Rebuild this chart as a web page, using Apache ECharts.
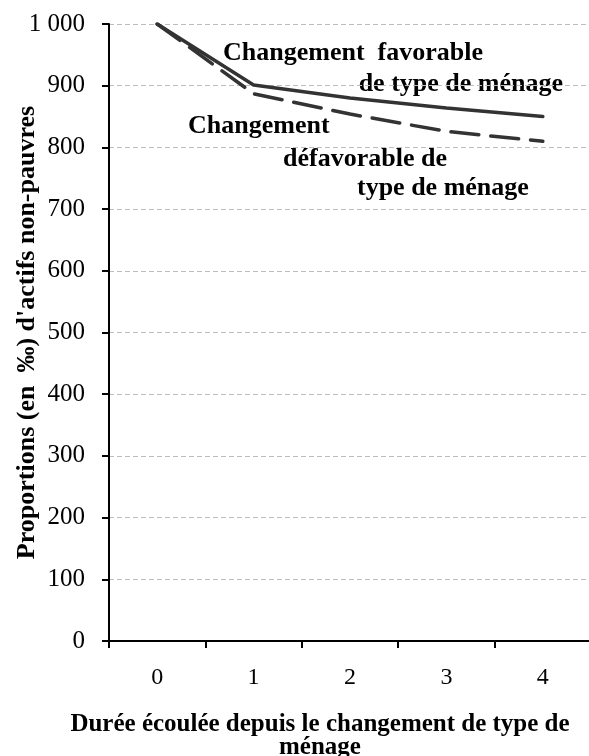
<!DOCTYPE html>
<html>
<head>
<meta charset="utf-8">
<script src="https://cdn.jsdelivr.net/npm/echarts@6/dist/echarts.min.js"></script>
<style>
  html, body { margin: 0; padding: 0; background: #fff; }
  #chart { width: 589px; height: 756px; }
</style>
</head>
<body>
<div id="chart"></div>
<script>
// durée écoulée (années)
var categories = ['0', '1', '2', '3', '4'];
// proportions (‰) d'actifs non-pauvres
var favorable = [1000, 901, 880, 864, 850];
var defavorable = [1000, 887, 854, 826, 810];

var serif = '"Liberation Serif", "DejaVu Serif", serif';

var chart = echarts.init(document.getElementById('chart'));

function label(text, pos){
	var el = {
		type: 'text',
		style: {text: text, font: 'bold 26px ' + serif, fill: '#000'}
	};
	for(var k in pos) el[k] = pos[k];
	return el;
}

chart.setOption({
	animation: false,
	grid: {
		left: 109,
		top: 24,
		width: 482,
		height: 617,
		containLabel: false,
		outerBoundsMode: 'none'
	},
	xAxis: {
		type: 'category',
		data: categories,
		boundaryGap: true,
		axisLine: {lineStyle: {color: '#000', width: 2}},
		axisTick: {show: true, length: 7, lineStyle: {color: '#000', width: 2}},
		axisLabel: {
			color: '#000',
			fontFamily: serif,
			fontSize: 24,
			margin: 25
		},
		splitLine: {show: false}
	},
	yAxis: {
		type: 'value',
		min: 0,
		max: 1000,
		interval: 100,
		name: "Proportions (en  ‰) d'actifs non-pauvres",
		nameLocation: 'middle',
		nameGap: 69,
		nameMoveOverlap: false,
		nameTextStyle: {
			color: '#000',
			fontFamily: serif,
			fontWeight: 'bold',
			fontSize: 26
		},
		axisLine: {show: true, lineStyle: {color: '#000', width: 2}},
		axisTick: {show: true, length: 7, lineStyle: {color: '#000', width: 2}},
		axisLabel: {
			color: '#000',
			fontFamily: serif,
			fontSize: 25,
			margin: 24,
			formatter: function(v){
				return v >= 1000 ? '1 000' : String(v);
			}
		},
		splitLine: {
			show: true,
			lineStyle: {color: '#bdbdbd', type: [5, 3], width: 1}
		}
	},
	series: [{
		name: 'Changement favorable de type de ménage',
		type: 'line',
		data: favorable,
		symbol: 'none',
		lineStyle: {color: '#333', width: 3.5, cap: 'round'}
	}, {
		name: 'Changement défavorable de type de ménage',
		type: 'line',
		data: defavorable,
		symbol: 'none',
		lineStyle: {color: '#333', width: 3.5, type: [28, 12], cap: 'round'}
	}],
	graphic: [
		label('Changement  favorable', {left: 223, top: 40}),
		label('de type de ménage', {right: 26, top: 71}),
		label('Changement', {left: 188, top: 113}),
		label('défavorable de', {left: 283, top: 146}),
		label('type de ménage', {left: 357, top: 175}),
		{
			type: 'text', x: 320, y: 713,
			style: {
				text: 'Durée écoulée depuis le changement de type de\nménage',
				font: 'bold 25px ' + serif,
				fill: '#000',
				align: 'center',
				verticalAlign: 'top',
				lineHeight: 23
			}
		}
	]
});
</script>
</body>
</html>
